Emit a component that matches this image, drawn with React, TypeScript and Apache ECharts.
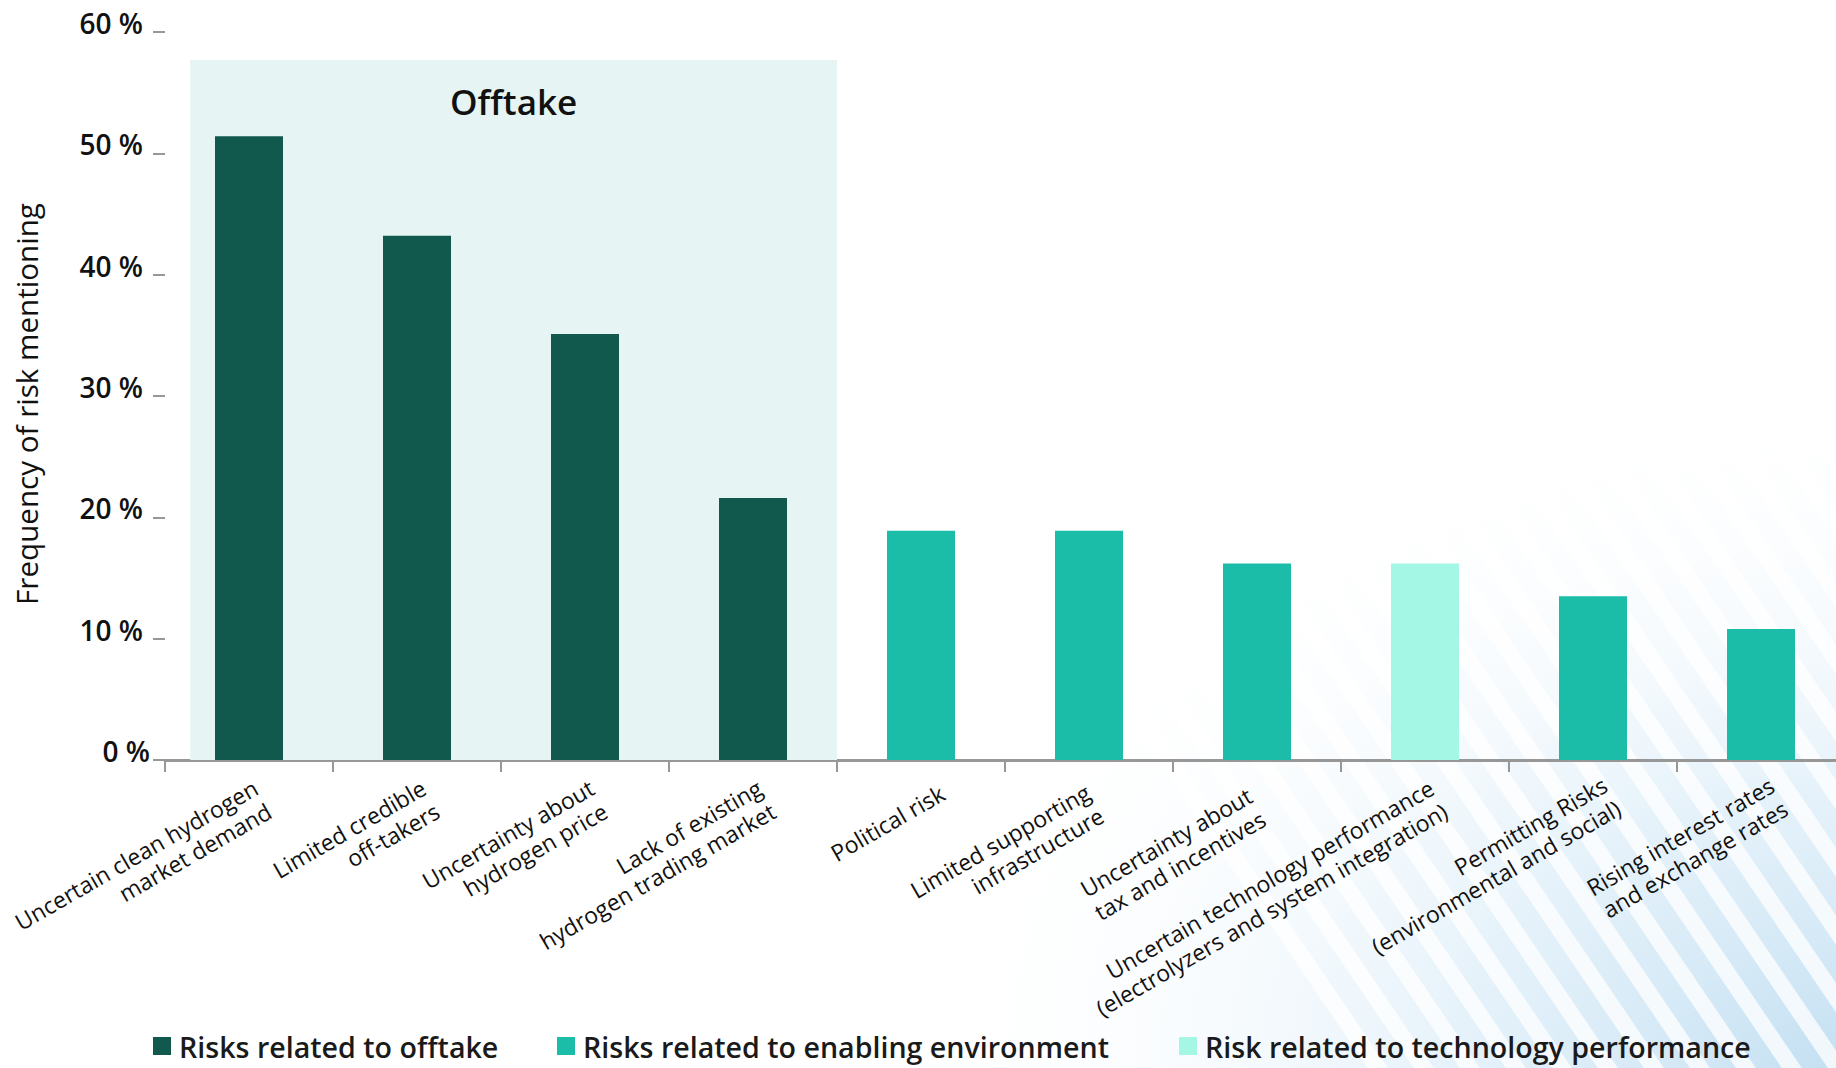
import React, { useEffect, useRef } from "react";
import * as echarts from "echarts";

const categories = [
  "Uncertain clean hydrogen\nmarket demand",
  "Limited credible\noff-takers",
  "Uncertainty about\nhydrogen price",
  "Lack of existing\nhydrogen trading market",
  "Political risk",
  "Limited supporting\ninfrastructure",
  "Uncertainty about\ntax and incentives",
  "Uncertain technology performance\n(electrolyzers and system integration)",
  "Permitting Risks\n(environmental and social)",
  "Rising interest rates\nand exchange rates",
];

const offtakeValues = [51.4, 43.2, 35.1, 21.6, "-", "-", "-", "-", "-", "-"];
const enablingValues = ["-", "-", "-", "-", 18.9, 18.9, 16.2, "-", 13.5, 10.8];
const technologyValues = ["-", "-", "-", "-", "-", "-", "-", 16.2, "-", "-"];

const seriesNames = [
  "Risks related to offtake",
  "Risks related to enabling environment",
  "Risk related to technology performance",
];
const seriesColors = ["#10594c", "#1bbca8", "#a4f7e4"];

const yMin = 0;
const yMax = 60;
const yInterval = 10;

const bandLabel = "Offtake";
const bandTop = 57.7;

const FONT = "'Open Sans', 'Noto Sans', sans-serif";

// per-label nudges of the rotated category labels (layout only)
const labelPadding: Record<number, number[]> = {
  4: [12, -10, 0, 0],
  5: [0, 9, 0, 0],
  6: [0, 16, 0, 0],
  8: [0, -6, 0, 0],
  9: [0, -5, 0, 0],
};

function buildStripes() {
  const els: any[] = [];
  const W = 1836;
  const H = 1068;
  const slope = 0.68;
  const y0 = 380;
  for (let x = 900; x < W + 400; x += 46) {
    const w = 20;
    const dx = (H - y0) * slope;
    els.push({
      type: "polygon",
      z: -10,
      silent: true,
      shape: {
        points: [
          [x, y0],
          [x + w, y0],
          [x + w + dx, H],
          [x + dx, H],
        ],
      },
      style: { fill: "rgba(255,255,255,0.75)" },
    });
  }
  return els;
}

export default function App() {
  const ref = useRef<HTMLDivElement>(null);
  useEffect(() => {
    if (!ref.current) return;
    const chart = echarts.init(ref.current, null, { renderer: "svg" });
    const barBase = {
      type: "bar",
      stack: "all",
      barWidth: 68,
      xAxisIndex: 0,
      yAxisIndex: 0,
      z: 3,
    };
    const legendText = {
      fontFamily: FONT,
      fontSize: 28.6,
      fontWeight: 600,
      color: "#1a1a1a",
      lineHeight: 30,
      padding: [0, 0, 0, 3],
    };
    const legendAt = (i: number, left: number) => ({
      data: [seriesNames[i]],
      left,
      top: 1031,
      padding: 0,
      icon: "rect",
      itemWidth: 18,
      itemHeight: 18,
      textStyle: legendText,
    });
    const categoryItems = categories.map((c, i) =>
      labelPadding[i]
        ? { value: c, textStyle: { padding: labelPadding[i], verticalAlign: "top", align: "right" } }
        : c
    );
    chart.setOption({
      animation: false,
      backgroundColor: "#ffffff",
      textStyle: { fontFamily: FONT },
      graphic: [
        {
          type: "rect",
          z: -20,
          silent: true,
          shape: { x: 900, y: 380, width: 936, height: 688 },
          style: {
            fill: new echarts.graphic.RadialGradient(1, 1, 1, [
              { offset: 0, color: "rgba(196,224,242,1)" },
              { offset: 0.4, color: "rgba(218,236,248,0.7)" },
              { offset: 1, color: "rgba(255,255,255,0)" },
            ]),
          },
        },
        ...buildStripes(),
      ],
      grid: {
        left: 165,
        right: -9,
        top: 32,
        bottom: 308,
        containLabel: false,
        outerBoundsMode: "none",
      },
      legend: [legendAt(0, 153), legendAt(1, 557), legendAt(2, 1179)],
      xAxis: [
        {
          type: "category",
          data: categoryItems,
          axisLine: { show: true, onZero: false, lineStyle: { color: "#979797", width: 3 } },
          axisTick: { show: true, length: 12, lineStyle: { color: "#979797", width: 2 } },
          axisLabel: {
            interval: 0,
            rotate: 30,
            verticalAlign: "top",
            margin: 14,
            fontSize: 23,
            lineHeight: 27,
            color: "#111111",
            fontFamily: FONT,
          },
          splitLine: { show: false },
        },
        {
          type: "value",
          min: -0.5,
          max: 9.5,
          show: false,
          axisLine: { onZero: false },
        },
      ],
      yAxis: {
        type: "value",
        min: yMin,
        max: yMax,
        interval: yInterval,
        name: "Frequency of risk mentioning",
        nameLocation: "middle",
        nameRotate: 90,
        nameGap: 124,
        nameTextStyle: {
          fontSize: 29.6,
          color: "#111111",
          fontFamily: FONT,
          padding: [0, 16, 0, 0],
        },
        axisLine: { show: false, onZero: false },
        axisTick: { show: true, length: 12, lineStyle: { color: "#979797", width: 2 } },
        splitLine: { show: false },
        axisLabel: {
          formatter: (v: number) => (v === 0 ? "{z|0 %}" : v + " %"),
          rich: {
            z: {
              fontSize: 28,
              fontWeight: 600,
              color: "#111111",
              fontFamily: FONT,
              padding: [0, -7, 0, 0],
            },
          },
          fontSize: 28,
          fontWeight: 600,
          color: "#111111",
          margin: 22,
          verticalAlign: "bottom",
          lineHeight: 18,
          fontFamily: FONT,
        },
      },
      series: [
        {
          type: "scatter",
          xAxisIndex: 1,
          yAxisIndex: 0,
          data: [],
          silent: true,
          z: 1,
          markArea: {
            silent: true,
            itemStyle: { color: "#e6f5f4" },
            label: {
              show: true,
              position: "insideTop",
              distance: 24,
              fontSize: 35,
              fontWeight: 600,
              color: "#111111",
              fontFamily: FONT,
            },
            data: [[{ name: bandLabel, coord: [-0.35, yMin] }, { coord: [3.5, bandTop] }]],
          },
        },
        { ...barBase, name: seriesNames[0], data: offtakeValues, itemStyle: { color: seriesColors[0] } },
        { ...barBase, name: seriesNames[1], data: enablingValues, itemStyle: { color: seriesColors[1] } },
        { ...barBase, name: seriesNames[2], data: technologyValues, itemStyle: { color: seriesColors[2] } },
      ],
    });
    return () => chart.dispose();
  }, []);
  return (
    <div
      ref={ref}
      style={{ position: "absolute", left: 0, top: 0, width: 1836, height: 1068, overflow: "hidden" }}
    />
  );
}
